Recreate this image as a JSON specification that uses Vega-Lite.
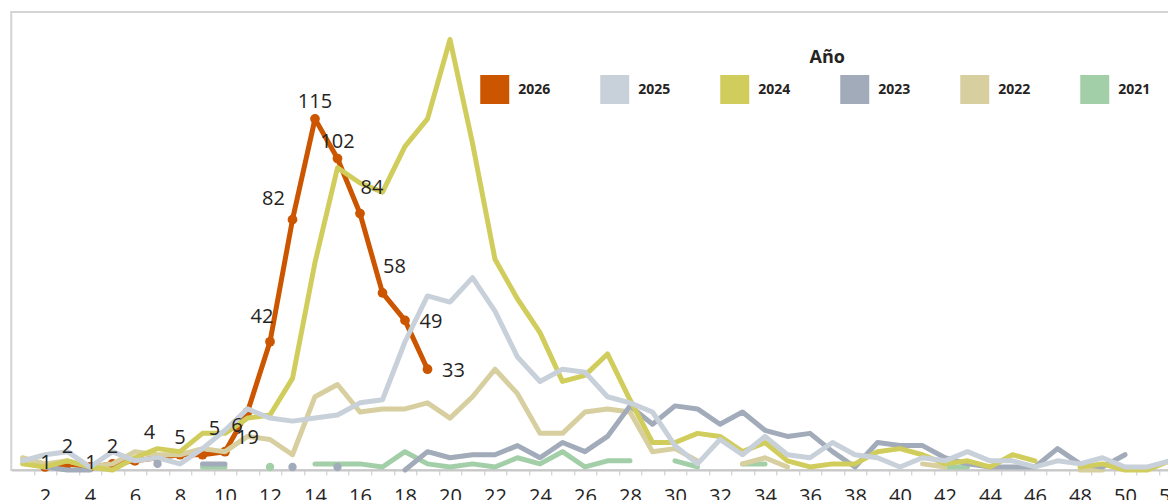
{
  "$schema": "https://vega.github.io/schema/vega-lite/v6.json",
  "width": 1170,
  "height": 458,
  "autosize": {"type": "none"},
  "padding": {"left": 11.25, "top": 12, "right": -13.25, "bottom": 30},
  "background": "white",
  "config": {"view": {"stroke": "#D4D4D4", "strokeWidth": 2}, "font": "Open Sans"},
  "data": {"values": [
    {"w":9,"yr":"2021","v":1},{"w":10,"yr":"2021","v":1},{"w":11,"yr":"2021","v":null},{"w":12,"yr":"2021","v":1},{"w":13,"yr":"2021","v":null},{"w":14,"yr":"2021","v":2},{"w":15,"yr":"2021","v":2},{"w":16,"yr":"2021","v":2},{"w":17,"yr":"2021","v":1},{"w":18,"yr":"2021","v":6},{"w":19,"yr":"2021","v":2},{"w":20,"yr":"2021","v":1},{"w":21,"yr":"2021","v":2},{"w":22,"yr":"2021","v":1},{"w":23,"yr":"2021","v":4},{"w":24,"yr":"2021","v":2},{"w":25,"yr":"2021","v":6},{"w":26,"yr":"2021","v":1},{"w":27,"yr":"2021","v":3},{"w":28,"yr":"2021","v":3},{"w":29,"yr":"2021","v":null},{"w":30,"yr":"2021","v":3},{"w":31,"yr":"2021","v":1},{"w":32,"yr":"2021","v":null},{"w":33,"yr":"2021","v":2},{"w":34,"yr":"2021","v":2},{"w":35,"yr":"2021","v":null},{"w":42,"yr":"2021","v":1},{"w":43,"yr":"2021","v":1},
    {"w":1,"yr":"2022","v":4},{"w":2,"yr":"2022","v":2},{"w":3,"yr":"2022","v":3},{"w":4,"yr":"2022","v":1},{"w":5,"yr":"2022","v":2},{"w":6,"yr":"2022","v":6},{"w":7,"yr":"2022","v":5},{"w":8,"yr":"2022","v":5},{"w":9,"yr":"2022","v":7},{"w":10,"yr":"2022","v":6},{"w":11,"yr":"2022","v":11},{"w":12,"yr":"2022","v":10},{"w":13,"yr":"2022","v":5},{"w":14,"yr":"2022","v":24},{"w":15,"yr":"2022","v":28},{"w":16,"yr":"2022","v":19},{"w":17,"yr":"2022","v":20},{"w":18,"yr":"2022","v":20},{"w":19,"yr":"2022","v":22},{"w":20,"yr":"2022","v":17},{"w":21,"yr":"2022","v":24},{"w":22,"yr":"2022","v":33},{"w":23,"yr":"2022","v":25},{"w":24,"yr":"2022","v":12},{"w":25,"yr":"2022","v":12},{"w":26,"yr":"2022","v":19},{"w":27,"yr":"2022","v":20},{"w":28,"yr":"2022","v":19},{"w":29,"yr":"2022","v":6},{"w":30,"yr":"2022","v":7},{"w":31,"yr":"2022","v":3},{"w":32,"yr":"2022","v":null},{"w":33,"yr":"2022","v":2},{"w":34,"yr":"2022","v":4},{"w":35,"yr":"2022","v":1},{"w":36,"yr":"2022","v":null},{"w":41,"yr":"2022","v":2},{"w":42,"yr":"2022","v":1},{"w":43,"yr":"2022","v":null},{"w":48,"yr":"2022","v":0},{"w":49,"yr":"2022","v":0},
    {"w":2,"yr":"2023","v":1},{"w":3,"yr":"2023","v":0},{"w":4,"yr":"2023","v":0},{"w":5,"yr":"2023","v":null},{"w":7,"yr":"2023","v":2},{"w":8,"yr":"2023","v":null},{"w":9,"yr":"2023","v":2},{"w":10,"yr":"2023","v":2},{"w":11,"yr":"2023","v":null},{"w":13,"yr":"2023","v":1},{"w":14,"yr":"2023","v":null},{"w":15,"yr":"2023","v":1},{"w":16,"yr":"2023","v":null},{"w":18,"yr":"2023","v":0},{"w":19,"yr":"2023","v":6},{"w":20,"yr":"2023","v":4},{"w":21,"yr":"2023","v":5},{"w":22,"yr":"2023","v":5},{"w":23,"yr":"2023","v":8},{"w":24,"yr":"2023","v":4},{"w":25,"yr":"2023","v":9},{"w":26,"yr":"2023","v":6},{"w":27,"yr":"2023","v":11},{"w":28,"yr":"2023","v":21},{"w":29,"yr":"2023","v":15},{"w":30,"yr":"2023","v":21},{"w":31,"yr":"2023","v":20},{"w":32,"yr":"2023","v":15},{"w":33,"yr":"2023","v":19},{"w":34,"yr":"2023","v":13},{"w":35,"yr":"2023","v":11},{"w":36,"yr":"2023","v":12},{"w":37,"yr":"2023","v":6},{"w":38,"yr":"2023","v":1},{"w":39,"yr":"2023","v":9},{"w":40,"yr":"2023","v":8},{"w":41,"yr":"2023","v":8},{"w":42,"yr":"2023","v":4},{"w":43,"yr":"2023","v":2},{"w":44,"yr":"2023","v":1},{"w":45,"yr":"2023","v":1},{"w":46,"yr":"2023","v":1},{"w":47,"yr":"2023","v":7},{"w":48,"yr":"2023","v":2},{"w":49,"yr":"2023","v":1},{"w":50,"yr":"2023","v":5},
    {"w":1,"yr":"2024","v":2},{"w":2,"yr":"2024","v":1},{"w":3,"yr":"2024","v":3},{"w":4,"yr":"2024","v":1},{"w":5,"yr":"2024","v":0},{"w":6,"yr":"2024","v":4},{"w":7,"yr":"2024","v":7},{"w":8,"yr":"2024","v":6},{"w":9,"yr":"2024","v":12},{"w":10,"yr":"2024","v":12},{"w":11,"yr":"2024","v":17},{"w":12,"yr":"2024","v":18},{"w":13,"yr":"2024","v":30},{"w":14,"yr":"2024","v":68},{"w":15,"yr":"2024","v":99},{"w":16,"yr":"2024","v":94},{"w":17,"yr":"2024","v":91},{"w":18,"yr":"2024","v":106},{"w":19,"yr":"2024","v":115},{"w":20,"yr":"2024","v":141},{"w":21,"yr":"2024","v":107},{"w":22,"yr":"2024","v":69},{"w":23,"yr":"2024","v":56},{"w":24,"yr":"2024","v":45},{"w":25,"yr":"2024","v":29},{"w":26,"yr":"2024","v":31},{"w":27,"yr":"2024","v":38},{"w":28,"yr":"2024","v":23},{"w":29,"yr":"2024","v":9},{"w":30,"yr":"2024","v":9},{"w":31,"yr":"2024","v":12},{"w":32,"yr":"2024","v":11},{"w":33,"yr":"2024","v":6},{"w":34,"yr":"2024","v":9},{"w":35,"yr":"2024","v":3},{"w":36,"yr":"2024","v":1},{"w":37,"yr":"2024","v":2},{"w":38,"yr":"2024","v":2},{"w":39,"yr":"2024","v":6},{"w":40,"yr":"2024","v":7},{"w":41,"yr":"2024","v":5},{"w":42,"yr":"2024","v":2},{"w":43,"yr":"2024","v":3},{"w":44,"yr":"2024","v":1},{"w":45,"yr":"2024","v":5},{"w":46,"yr":"2024","v":3},{"w":47,"yr":"2024","v":null},{"w":48,"yr":"2024","v":1},{"w":49,"yr":"2024","v":2},{"w":50,"yr":"2024","v":0},{"w":51,"yr":"2024","v":0},{"w":52,"yr":"2024","v":3},
    {"w":1,"yr":"2025","v":3},{"w":2,"yr":"2025","v":5},{"w":3,"yr":"2025","v":6},{"w":4,"yr":"2025","v":1},{"w":5,"yr":"2025","v":6},{"w":6,"yr":"2025","v":3},{"w":7,"yr":"2025","v":4},{"w":8,"yr":"2025","v":2},{"w":9,"yr":"2025","v":7},{"w":10,"yr":"2025","v":13},{"w":11,"yr":"2025","v":20},{"w":12,"yr":"2025","v":17},{"w":13,"yr":"2025","v":16},{"w":14,"yr":"2025","v":17},{"w":15,"yr":"2025","v":18},{"w":16,"yr":"2025","v":22},{"w":17,"yr":"2025","v":23},{"w":18,"yr":"2025","v":42},{"w":19,"yr":"2025","v":57},{"w":20,"yr":"2025","v":55},{"w":21,"yr":"2025","v":63},{"w":22,"yr":"2025","v":52},{"w":23,"yr":"2025","v":37},{"w":24,"yr":"2025","v":29},{"w":25,"yr":"2025","v":33},{"w":26,"yr":"2025","v":32},{"w":27,"yr":"2025","v":24},{"w":28,"yr":"2025","v":22},{"w":29,"yr":"2025","v":19},{"w":30,"yr":"2025","v":8},{"w":31,"yr":"2025","v":2},{"w":32,"yr":"2025","v":10},{"w":33,"yr":"2025","v":5},{"w":34,"yr":"2025","v":11},{"w":35,"yr":"2025","v":5},{"w":36,"yr":"2025","v":4},{"w":37,"yr":"2025","v":9},{"w":38,"yr":"2025","v":5},{"w":39,"yr":"2025","v":4},{"w":40,"yr":"2025","v":1},{"w":41,"yr":"2025","v":4},{"w":42,"yr":"2025","v":3},{"w":43,"yr":"2025","v":6},{"w":44,"yr":"2025","v":3},{"w":45,"yr":"2025","v":3},{"w":46,"yr":"2025","v":1},{"w":47,"yr":"2025","v":3},{"w":48,"yr":"2025","v":2},{"w":49,"yr":"2025","v":4},{"w":50,"yr":"2025","v":1},{"w":51,"yr":"2025","v":1},{"w":52,"yr":"2025","v":3},
    {"w":2,"yr":"2026","v":1},{"w":3,"yr":"2026","v":2},{"w":4,"yr":"2026","v":1},{"w":5,"yr":"2026","v":2},{"w":6,"yr":"2026","v":3},{"w":7,"yr":"2026","v":4},{"w":8,"yr":"2026","v":5},{"w":9,"yr":"2026","v":5},{"w":10,"yr":"2026","v":6},{"w":11,"yr":"2026","v":19},{"w":12,"yr":"2026","v":42},{"w":13,"yr":"2026","v":82},{"w":14,"yr":"2026","v":115},{"w":15,"yr":"2026","v":102},{"w":16,"yr":"2026","v":84},{"w":17,"yr":"2026","v":58},{"w":18,"yr":"2026","v":49},{"w":19,"yr":"2026","v":33}
  ]},
  "encoding": {
    "x": {"field": "w", "type": "quantitative", "title": null,
      "scale": {"domain": [0.5, 52.5], "nice": false, "zero": false},
      "axis": {
        "values": [1.5,2,2.5,3.5,4,4.5,5.5,6,6.5,7.5,8,8.5,9.5,10,10.5,11.5,12,12.5,13.5,14,14.5,15.5,16,16.5,17.5,18,18.5,19.5,20,20.5,21.5,22,22.5,23.5,24,24.5,25.5,26,26.5,27.5,28,28.5,29.5,30,30.5,31.5,32,32.5,33.5,34,34.5,35.5,36,36.5,37.5,38,38.5,39.5,40,40.5,41.5,42,42.5,43.5,44,44.5,45.5,46,46.5,47.5,48,48.5,49.5,50,50.5,51.5,52],
        "labelExpr": "datum.value % 2 == 0 ? '' + datum.value : ''",
        "tickOpacity": {"condition": {"test": "datum.value % 1 != 0", "value": 1}, "value": 0},
        "tickSize": 5, "tickColor": "#C8C8C8", "tickWidth": 1,
        "domainColor": "#C8C8C8", "domainWidth": 2,
        "labelFontSize": 20, "labelColor": "#252423", "labelFont": "Open Sans",
        "labelPadding": 11, "labelOverlap": false, "labelFlush": false, "labelBound": false,
        "grid": false
      }
    },
    "y": {"field": "v", "type": "quantitative", "scale": {"domain": [0, 150], "nice": false}, "axis": null},
    "color": {"field": "yr", "type": "nominal",
      "scale": {"domain": ["2026","2025","2024","2023","2022","2021"], "range": ["#CC5500","#C8D0DA","#D1CD5C","#A2ABB9","#D7CFA0","#A3CFA8"]},
      "legend": {
        "orient": "none", "legendX": 469, "legendY": 37, "direction": "horizontal",
        "title": "Año", "titleFontSize": 18, "titleFontWeight": "bold", "titleColor": "#252423", "titleFont": "Open Sans",
        "titleAnchor": "middle", "titleAlign": "center", "titlePadding": 8,
        "symbolType": "square", "symbolSize": 841, "symbolStrokeWidth": 0, "symbolOpacity": 1,
        "labelFontSize": 14, "labelFontWeight": "bold", "labelColor": "#252423", "labelFont": "Open Sans",
        "labelOffset": 9, "columnPadding": 49, "padding": 0,
        "encode": {
          "symbols": {"update": {"fill": {"scale": "color", "field": "value"}, "opacity": {"value": 1}}},
          "title": {"update": {"dx": {"value": 12}}}
        }
      }
    }
  },
  "layer": [
    {"transform": [{"filter": "datum.yr == '2026'"}], "mark": {"type": "line", "strokeWidth": 5, "strokeJoin": "round", "strokeCap": "round"}},
    {"transform": [{"filter": "datum.yr == '2026' && isValid(datum.v)"}], "mark": {"type": "circle", "size": 95, "opacity": 1}},
    {"transform": [{"filter": "datum.yr != '2026'"}], "mark": {"type": "line", "strokeWidth": 5, "strokeJoin": "round", "strokeCap": "round"}},
    {"transform": [
        {"filter": "datum.yr != '2026' && isValid(datum.v)"},
        {"window": [{"op": "lag", "field": "w", "as": "pw"}, {"op": "lead", "field": "w", "as": "nw"}], "groupby": ["yr"], "sort": [{"field": "w"}]},
        {"filter": "(!isValid(datum.pw) || datum.w - datum.pw > 1) && (!isValid(datum.nw) || datum.nw - datum.w > 1)"}
      ],
      "mark": {"type": "circle", "size": 70, "opacity": 1}},
    {"transform": [{"filter": "datum.yr == '2026'"}, {"filter": {"field": "w", "oneOf": [3,5,8,14,15]}}],
     "mark": {"type": "text", "fontSize": 20, "font": "Open Sans", "dx": 0, "dy": -17, "align": "center", "baseline": "middle"},
     "encoding": {"text": {"field": "v"}, "color": {"value": "#252423"}}},
    {"transform": [{"filter": "datum.yr == '2026'"}, {"filter": {"field": "w", "oneOf": [2,4]}}],
     "mark": {"type": "text", "fontSize": 20, "font": "Open Sans", "dx": 1, "dy": -4, "align": "center", "baseline": "middle"},
     "encoding": {"text": {"field": "v"}, "color": {"value": "#252423"}}},
    {"transform": [{"filter": "datum.yr == '2026'"}, {"filter": {"field": "w", "oneOf": [7,12]}}],
     "mark": {"type": "text", "fontSize": 20, "font": "Open Sans", "dx": -8, "dy": -25, "align": "center", "baseline": "middle"},
     "encoding": {"text": {"field": "v"}, "color": {"value": "#252423"}}},
    {"transform": [{"filter": "datum.yr == '2026'"}, {"filter": {"field": "w", "oneOf": [13]}}],
     "mark": {"type": "text", "fontSize": 20, "font": "Open Sans", "dx": -19, "dy": -21, "align": "center", "baseline": "middle"},
     "encoding": {"text": {"field": "v"}, "color": {"value": "#252423"}}},
    {"transform": [{"filter": "datum.yr == '2026'"}, {"filter": {"field": "w", "oneOf": [9,10,16,17]}}],
     "mark": {"type": "text", "fontSize": 20, "font": "Open Sans", "dx": 12, "dy": -26, "align": "center", "baseline": "middle"},
     "encoding": {"text": {"field": "v"}, "color": {"value": "#252423"}}},
    {"transform": [{"filter": "datum.yr == '2026'"}, {"filter": {"field": "w", "oneOf": [18,19]}}],
     "mark": {"type": "text", "fontSize": 20, "font": "Open Sans", "dx": 26, "dy": 2, "align": "center", "baseline": "middle"},
     "encoding": {"text": {"field": "v"}, "color": {"value": "#252423"}}},
    {"transform": [{"filter": "datum.yr == '2026'"}, {"filter": {"field": "w", "oneOf": [11]}}],
     "mark": {"type": "text", "fontSize": 20, "font": "Open Sans", "dx": 0, "dy": 26, "align": "center", "baseline": "middle"},
     "encoding": {"text": {"field": "v"}, "color": {"value": "#252423"}}}
  ]
}
